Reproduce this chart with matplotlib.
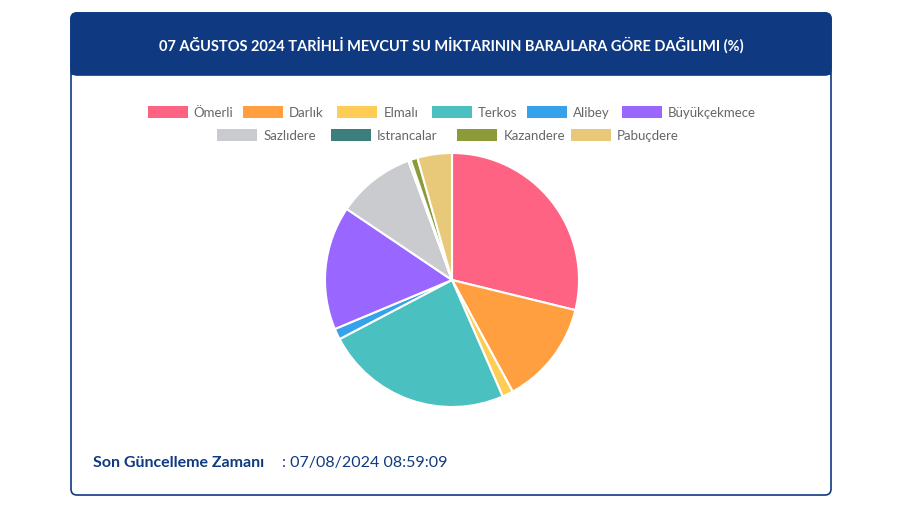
import matplotlib.pyplot as plt
from matplotlib.patches import FancyBboxPatch, Rectangle

dams = ['Ömerli', 'Darlık', 'Elmalı', 'Terkos', 'Alibey', 'Büyükçekmece',
        'Sazlıdere', 'Istrancalar', 'Kazandere', 'Pabuçdere']
shares = [28.9, 13.3, 1.4, 23.9, 1.4, 15.8, 10.0, 0.3, 0.9, 4.4]
colors = ['#ff6384', '#ff9f40', '#ffcd56', '#4bc0c0', '#36a2eb', '#9966ff',
          '#c9cbcf', '#3c7d7d', '#8c9a3a', '#e8c97a']

plt.rcParams['font.family'] = ['Lato', 'DejaVu Sans']
W, H = 900, 506
fig = plt.figure(figsize=(9, 5.06), dpi=100)
bg = fig.add_axes([0, 0, 1, 1])
bg.set_xlim(0, W)
bg.set_ylim(H, 0)
bg.axis('off')

navy = '#0f3a82'
# card
bg.add_patch(FancyBboxPatch((71, 14), 760, 482, boxstyle='round,pad=0,rounding_size=6',
                            fc='white', ec=navy, lw=1.2))
bg.add_patch(FancyBboxPatch((71, 14), 760, 62, boxstyle='round,pad=0,rounding_size=6',
                            fc=navy, ec=navy, lw=1.2))
bg.add_patch(Rectangle((71, 60), 760, 16, fc=navy, ec='none'))
bg.text(451, 45, '07 AĞUSTOS 2024 TARİHLİ MEVCUT SU MİKTARININ BARAJLARA GÖRE DAĞILIMI (%)',
        color='white', fontsize=10.5, fontweight='bold', ha='center', va='center')

# legend rows
rows = [(dams[:6], colors[:6], 113), (dams[6:], colors[6:], 136)]
for names, cols, y in rows:
    ws = [len(n) * 6.3 + 57 for n in names]
    x = 451 - sum(ws) / 2
    for n, c, w in zip(names, cols, ws):
        bg.add_patch(Rectangle((x, y - 6), 40, 12, fc=c, ec='none'))
        bg.text(x + 46, y, n, fontsize=9.5, color='#666666', va='center')
        x += w

bg.text(93, 463, 'Son Güncelleme Zamanı', color=navy, fontsize=11.5, fontweight='bold', va='center')
bg.text(282, 463, ': 07/08/2024 08:59:09', color=navy, fontsize=11.5, va='center')

R = 127
pie_ax = fig.add_axes([(452 - R) / W, 1 - (281 + R) / H, 2 * R / W, 2 * R / H])
pie_ax.pie(shares, colors=colors, startangle=90, counterclock=False, radius=1,
           wedgeprops=dict(edgecolor='white', linewidth=1.5))
pie_ax.set_xlim(-1, 1)
pie_ax.set_ylim(-1, 1)
pie_ax.set_aspect('equal')

fig.savefig('out.png', dpi=100, facecolor='white')
